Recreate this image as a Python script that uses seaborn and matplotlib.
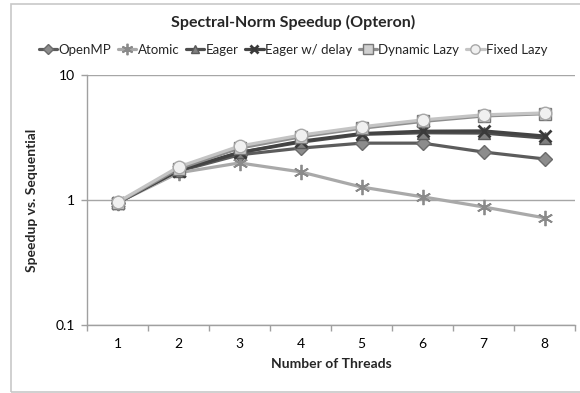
import matplotlib
matplotlib.use("Agg")
import matplotlib.pyplot as plt
import seaborn as sns
import pandas as pd
from matplotlib.patches import Rectangle
from matplotlib.ticker import FixedLocator, NullFormatter, NullLocator

threads = [1, 2, 3, 4, 5, 6, 7, 8]
openmp = [0.95, 1.70, 2.30, 2.60, 2.85, 2.85, 2.42, 2.13]
atomic = [0.95, 1.65, 1.98, 1.68, 1.27, 1.06, 0.88, 0.72]
eager = [0.95, 1.72, 2.40, 2.90, 3.35, 3.45, 3.43, 3.13]
eager_delay = [0.95, 1.72, 2.40, 2.95, 3.40, 3.55, 3.57, 3.25]
dynamic_lazy = [0.95, 1.78, 2.60, 3.20, 3.75, 4.25, 4.70, 4.90]
fixed_lazy = [0.96, 1.84, 2.70, 3.30, 3.85, 4.37, 4.80, 4.97]

series_names = ["OpenMP", "Atomic", "Eager", "Eager w/ delay", "Dynamic Lazy", "Fixed Lazy"]
series_values = [openmp, atomic, eager, eager_delay, dynamic_lazy, fixed_lazy]

styles = {
    "OpenMP": dict(color="#5c5c5c", marker="D", ms=7, mfc="#8c8c8c", mec="#6a6a6a", mew=1.0),
    "Atomic": dict(color="#a9a9a9", marker=(6, 2, 0), ms=11, mfc="#8a8a8a", mec="#8a8a8a", mew=1.3),
    "Eager": dict(color="#4e4e4e", marker="^", ms=8, mfc="#808080", mec="#5a5a5a", mew=1.0),
    "Eager w/ delay": dict(color="#434343", marker="x", ms=8, mfc="#3a3a3a", mec="#3a3a3a", mew=2.0),
    "Dynamic Lazy": dict(color="#8e8e8e", marker="s", ms=9, mfc="#d0d0d0", mec="#777777", mew=1.0),
    "Fixed Lazy": dict(color="#c4c4c4", marker="o", ms=9, mfc="#f0f0f0", mec="#a8a8a8", mew=1.0),
}

sns.set_theme(style="white")
plt.rcParams["font.family"] = ["Lato", "DejaVu Sans"]

fig = plt.figure(figsize=(5.8, 3.93), dpi=100)
ax = fig.add_axes([87 / 580, 1 - 325 / 393, (575 - 87) / 580, 250 / 393])

for name, vals in zip(series_names, series_values):
    st = styles[name]
    df = pd.DataFrame({"threads": threads, "speedup": vals})
    sns.lineplot(data=df, x="threads", y="speedup", ax=ax, color=st["color"], lw=2.3,
                 marker=st["marker"], markersize=st["ms"], markerfacecolor=st["mfc"],
                 markeredgecolor=st["mec"], markeredgewidth=st["mew"], label=name,
                 legend=False, zorder=3)

ax.set_yscale("log")
ax.set_ylim(0.1, 10)
ax.set_xlim(0.5, 8.5)
ax.yaxis.set_major_locator(FixedLocator([0.1, 1, 10]))
ax.yaxis.set_minor_locator(NullLocator())
ax.yaxis.set_minor_formatter(NullFormatter())
ax.set_yticklabels(["0.1", "1", "10"])
ax.set_xticks(threads)
ax.set_xticklabels([str(t) for t in threads])
ax.xaxis.set_minor_locator(FixedLocator([t - 0.5 for t in threads] + [8.5]))
ax.tick_params(axis="x", which="major", length=0, pad=9, labelsize=10, colors="#000000")
ax.tick_params(axis="x", which="minor", length=4, width=1, color="#a0a0a0", direction="out", bottom=True)
ax.tick_params(axis="y", which="major", length=4, width=1, color="#a0a0a0", direction="out",
               left=True, pad=5, labelsize=10, labelcolor="#000000")
ax.grid(axis="y", which="major", color="#a6a6a6", lw=1.0)
ax.grid(axis="x", visible=False)
for side in ["top", "right"]:
    ax.spines[side].set_visible(False)
for side in ["left", "bottom"]:
    ax.spines[side].set_color("#a0a0a0")
    ax.spines[side].set_linewidth(1.0)

ax.set_xlabel("Number of Threads", fontsize=10, fontweight="bold", labelpad=6)
ax.set_ylabel("Speedup vs. Sequential", fontsize=10, fontweight="bold", labelpad=12)

fig.text(293 / 580, 1 - 22 / 393, "Spectral-Norm Speedup (Opteron)", ha="center", va="center",
         fontsize=11.5, fontweight="bold")

handles, labels = ax.get_legend_handles_labels()
fig.legend(handles, labels, loc="center", bbox_to_anchor=(293 / 580, 1 - 50 / 393), ncol=6,
           frameon=False, fontsize=9.5, handlelength=1.4, handletextpad=0.1, columnspacing=0.5,
           markerscale=0.75, borderpad=0)

fig.patches.append(Rectangle((11 / 580, 1.5 / 393), 1.2, 1 - 5 / 393, transform=fig.transFigure,
                             fill=False, edgecolor="#c8c8c8", lw=1.2))

fig.savefig("out.png", dpi=100)
